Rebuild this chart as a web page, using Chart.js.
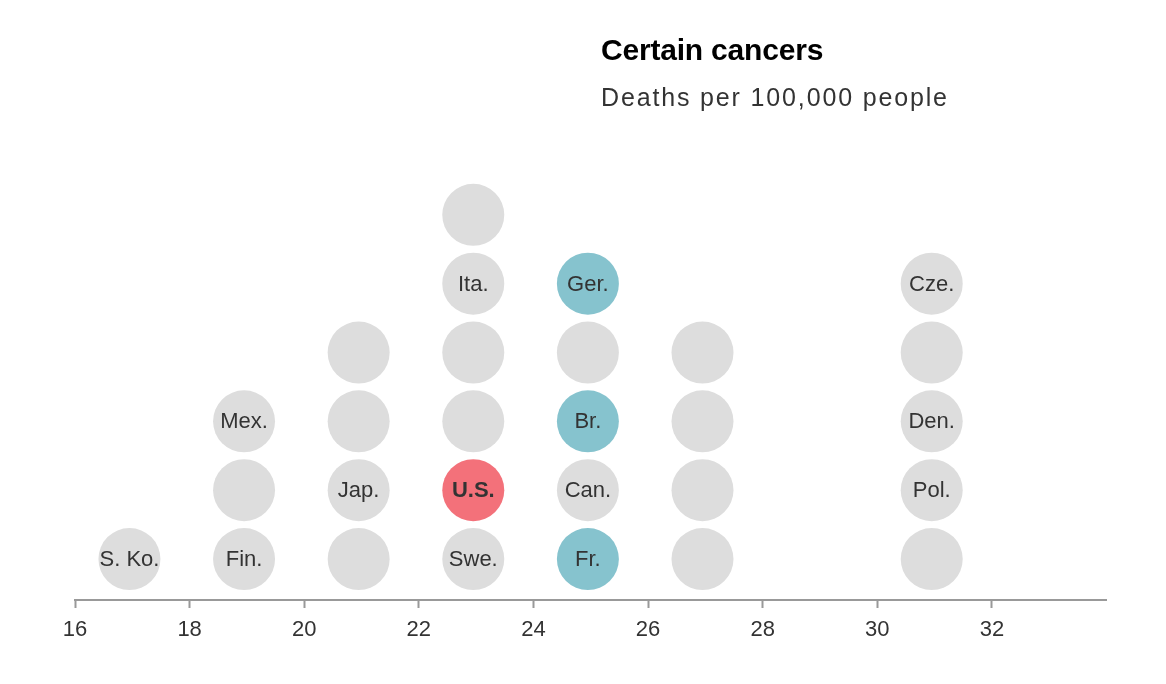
<!DOCTYPE html>
<html>
<head>
<meta charset="utf-8">
<script src="https://cdn.jsdelivr.net/npm/chart.js@4.4.1/dist/chart.umd.min.js"></script>
<style>
  html, body { margin: 0; padding: 0; background: #fff; }
  #wrap { position: relative; width: 1166px; height: 684px; }
  #chart { position: absolute; left: 0; top: 0; }
  .ttl { position: absolute; left: 601px; top: 35px; font: bold 30px 'Liberation Sans', Arial, sans-serif; line-height: 1; color: #000; letter-spacing: -0.2px; }
  .sub { position: absolute; left: 601px; top: 85px; font: 25px 'Liberation Sans', Arial, sans-serif; line-height: 1; color: #333; letter-spacing: 1.85px; }
</style>
</head>
<body>
<div id="wrap">
  <canvas id="chart" width="1166" height="684"></canvas>
  <div class="ttl">Certain cancers</div>
  <div class="sub">Deaths per 100,000 people</div>
</div>
<script>
// Certain cancers - deaths per 100,000 people, one dot per country, stacked by bin

const deathRates = [
  16.95,
  18.95, 18.95, 18.95,
  20.95, 20.95, 20.95, 20.95,
  22.95, 22.95, 22.95, 22.95, 22.95, 22.95,
  24.95, 24.95, 24.95, 24.95, 24.95,
  26.95, 26.95, 26.95, 26.95,
  30.95, 30.95, 30.95, 30.95, 30.95
];
const stackRows = [
  1,
  1, 2, 3,
  1, 2, 3, 4,
  1, 2, 3, 4, 5, 6,
  1, 2, 3, 4, 5,
  1, 2, 3, 4,
  1, 2, 3, 4, 5
];
const countryLabels = [
  'S. Ko.',
  'Fin.', '', 'Mex.',
  '', 'Jap.', '', '',
  'Swe.', 'U.S.', '', '', 'Ita.', '',
  'Fr.', 'Can.', 'Br.', '', 'Ger.',
  '', '', '', '',
  '', 'Pol.', 'Den.', '', 'Cze.'
];
const countryGroups = [
  'other',
  'other', 'other', 'other',
  'other', 'other', 'other', 'other',
  'other', 'us', 'other', 'other', 'other', 'other',
  'peer', 'other', 'peer', 'other', 'peer',
  'other', 'other', 'other', 'other',
  'other', 'other', 'other', 'other', 'other'
];
const tickValues = [16, 18, 20, 22, 24, 26, 28, 30, 32];

const groupColors = { other: '#dddddd', peer: '#86c3ce', us: '#f3717a' };
const FONT = "'Liberation Sans', Arial, sans-serif";

Chart.defaults.font.family = FONT;

const points = deathRates.map((x, i) => ({ x: x, y: stackRows[i] }));

// draw the country names inside the dots
const dotLabels = {
  id: 'dotLabels',
  afterDatasetsDraw(chart) {
    const ctx = chart.ctx;
    const meta = chart.getDatasetMeta(0);
    ctx.save();
    ctx.textAlign = 'center';
    ctx.textBaseline = 'middle';
    ctx.fillStyle = '#333';
    meta.data.forEach((pt, i) => {
      const txt = countryLabels[i];
      if (!txt) return;
      ctx.font = (countryGroups[i] === 'us' ? 'bold ' : '') + '22px ' + FONT;
      ctx.fillText(txt, pt.x, pt.y + 1);
    });
    ctx.restore();
  }
};

new Chart(document.getElementById('chart'), {
  type: 'scatter',
  data: {
    datasets: [{
      data: points,
      pointRadius: 31,
      pointHoverRadius: 31,
      pointBorderWidth: 0,
      pointBackgroundColor: countryGroups.map(g => groupColors[g]),
      clip: false
    }]
  },
  options: {
    responsive: false,
    animation: false,
    events: [],
    layout: { padding: { left: 75, right: 59.5, top: 146, bottom: 0 } },
    plugins: {
      legend: { display: false },
      tooltip: { enabled: false }
    },
    scales: {
      x: {
        type: 'linear',
        min: 16,
        max: 34,
        afterBuildTicks(scale) {
          scale.ticks = tickValues.map(v => ({ value: v }));
        },
        afterFit(scale) {
          scale.height = 84;
        },
        grid: {
          drawOnChartArea: false,
          drawTicks: true,
          tickLength: 8,
          tickWidth: 2,
          color: '#999'
        },
        border: { color: '#999', width: 2 },
        ticks: {
          color: '#333',
          padding: 9,
          maxRotation: 0,
          font: { size: 22 },
          callback: v => String(v)
        }
      },
      y: {
        display: false,
        min: 0.405,
        max: 7
      }
    }
  },
  plugins: [dotLabels]
});
</script>
</body>
</html>
